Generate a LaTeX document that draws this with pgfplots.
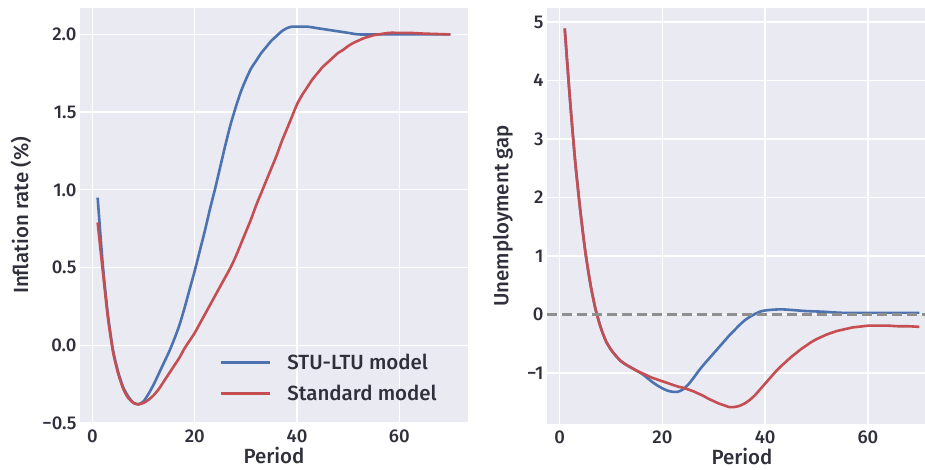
\documentclass[border=0pt]{standalone}
\usepackage{fontspec}
\setmainfont{Fira Sans Medium}
\usepackage{pgfplots}
\pgfplotsset{compat=1.18}
\definecolor{bgc}{HTML}{EAEAF2}
\definecolor{txt}{HTML}{30303C}
\definecolor{sBlue}{HTML}{4C72B0}
\definecolor{sRed}{HTML}{C44E52}
\definecolor{dashgray}{HTML}{8F8F8F}

\pgfplotsset{
  sea/.style={
    scale only axis,
    axis background/.style={fill=bgc},
    axis line style={draw=none},
    grid=major, grid style={white, line width=1.3pt},
    major tick length=0pt, tick style={draw=none},
    xmin=-2.45, xmax=73.45,
    xtick={0,20,40,60}, xticklabels={0,20,40,60},
    tick label style={font=\fontsize{18.5}{20}\selectfont, text=txt},
    xticklabel style={yshift=-3pt},
    label style={font=\fontsize{20.5}{24}\selectfont, text=txt},
    xlabel={Period},
    xlabel style={at={(axis description cs:0.5,-0.079)}, anchor=center},
    every axis plot/.append style={line width=2.6pt, smooth, tension=0.4},
  }
}

\begin{document}
\begin{tikzpicture}
\useasboundingbox (0pt,0pt) rectangle (925pt,470pt);

% inflation
\begin{axis}[sea, at={(80pt,462pt)}, anchor=north west, width=388pt, height=415pt,
  ymin=-0.5, ymax=2.17,
  ytick={-0.5,0,0.5,1,1.5,2}, yticklabels={−0.5,0.0,0.5,1.0,1.5,2.0},
  ylabel={Inflation rate (\%)},
  ylabel style={at={(axis description cs:-0.152,0.5)}, anchor=center},
  legend style={draw=none, fill=none, at={(axis description cs:0.352,0.177)}, anchor=north west,
    font=\fontsize{20.5}{22}\selectfont, text=txt, row sep=10pt,
    /tikz/every odd column/.style={column sep=14pt}},
  legend cell align=left,
  legend image code/.code={\draw[#1, sharp plot, line width=2.6pt] (0pt,0pt) -- (49pt,0pt);}]
\addplot[sBlue] coordinates {
(1,0.95) (2,0.52) (3,0.20) (4,-0.03) (5,-0.17) (6,-0.27) (7,-0.33) (8,-0.37) (9,-0.38)
(10,-0.36) (11,-0.31) (12,-0.25) (13,-0.18) (14,-0.11) (15,-0.04) (16,0.04) (17,0.13)
(18,0.24) (19,0.36) (20,0.48) (21,0.61) (22,0.74) (23,0.88) (24,1.01) (25,1.15)
(26,1.29) (27,1.42) (28,1.53) (29,1.63) (30,1.71) (31,1.78) (32,1.83) (33,1.88)
(34,1.92) (35,1.96) (36,1.99) (37,2.02) (38,2.04) (39,2.05) (40,2.05) (42,2.05)
(44,2.04) (46,2.03) (48,2.02) (50,2.01) (52,2.00) (55,2.00) (60,2.00) (65,2.00) (70,2.00)};
\addlegendentry{STU-LTU model}
\addplot[sRed] coordinates {
(1,0.79) (2,0.48) (3,0.18) (4,-0.04) (5,-0.18) (6,-0.28) (7,-0.34) (8,-0.37) (9,-0.38)
(10,-0.37) (11,-0.35) (12,-0.32) (13,-0.28) (14,-0.23) (15,-0.18) (16,-0.13) (17,-0.08)
(18,-0.02) (19,0.03) (20,0.08) (21,0.14) (22,0.20) (23,0.26) (24,0.32) (25,0.38)
(26,0.44) (27,0.50) (28,0.57) (29,0.65) (30,0.73) (31,0.81) (32,0.90) (33,0.98)
(34,1.06) (35,1.14) (36,1.22) (37,1.31) (38,1.39) (39,1.47) (40,1.55) (41,1.61)
(42,1.66) (43,1.71) (44,1.75) (45,1.79) (46,1.82) (47,1.85) (48,1.88) (49,1.90)
(50,1.925) (51,1.945) (52,1.96) (53,1.975) (54,1.985) (55,1.995) (56,2.00) (58,2.01)
(60,2.01) (62,2.01) (65,2.005) (70,2.00)};
\addlegendentry{Standard model}
\end{axis}

% unemployment gap
\begin{axis}[sea, at={(547pt,462pt)}, anchor=north west, width=390pt, height=416pt,
  ymin=-1.87, ymax=5.24,
  ytick={-1,0,1,2,3,4,5}, yticklabels={−1,0,1,2,3,4,5},
  ylabel={Unemployment gap},
  ylabel style={at={(axis description cs:-0.113,0.5)}, anchor=center}]
\addplot[sBlue] coordinates {
(1,4.89) (2,3.70) (3,2.65) (4,1.80) (5,1.08) (6,0.52) (7,0.09) (8,-0.22) (9,-0.45)
(10,-0.60) (11,-0.71) (12,-0.80) (13,-0.86) (14,-0.91) (15,-0.96) (16,-1.01) (17,-1.08)
(18,-1.15) (19,-1.21) (20,-1.26) (21,-1.30) (22,-1.32) (23,-1.32) (24,-1.28) (25,-1.20)
(26,-1.09) (27,-0.97) (28,-0.86) (29,-0.76) (30,-0.66) (31,-0.56) (32,-0.46) (33,-0.36)
(34,-0.27) (35,-0.18) (36,-0.10) (37,-0.04) (38,0.01) (39,0.05) (40,0.07) (41,0.08)
(43,0.09) (45,0.08) (48,0.06) (51,0.05) (55,0.03) (60,0.03) (65,0.03) (70,0.03)};
\addplot[sRed] coordinates {
(1,4.89) (2,3.70) (3,2.65) (4,1.80) (5,1.08) (6,0.52) (7,0.09) (8,-0.22) (9,-0.45)
(10,-0.60) (11,-0.71) (12,-0.80) (13,-0.86) (14,-0.91) (15,-0.96) (16,-1.00) (17,-1.04)
(18,-1.08) (19,-1.11) (20,-1.14) (21,-1.17) (22,-1.20) (23,-1.23) (24,-1.25) (25,-1.28)
(26,-1.31) (27,-1.35) (28,-1.39) (29,-1.44) (30,-1.48) (31,-1.52) (32,-1.55) (33,-1.58)
(34,-1.58) (35,-1.56) (36,-1.52) (37,-1.46) (38,-1.38) (39,-1.28) (40,-1.18) (41,-1.08)
(42,-0.98) (43,-0.89) (44,-0.81) (45,-0.73) (46,-0.66) (47,-0.59) (48,-0.53) (49,-0.47)
(50,-0.42) (51,-0.38) (52,-0.34) (53,-0.31) (54,-0.28) (55,-0.26) (56,-0.24) (57,-0.22)
(58,-0.21) (59,-0.20) (60,-0.19) (62,-0.19) (64,-0.19) (66,-0.20) (68,-0.20) (70,-0.21)};
\addplot[dashgray, sharp plot, dash pattern=on 10pt off 5pt] coordinates {(-2.45,0) (73.45,0)};
\end{axis}
\end{tikzpicture}
\end{document}
